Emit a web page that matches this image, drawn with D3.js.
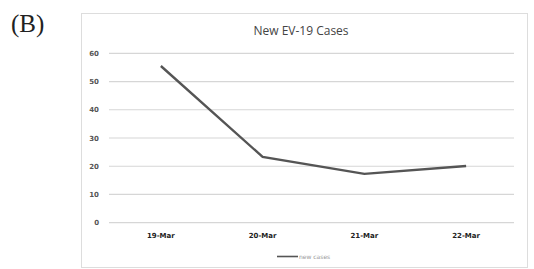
<!DOCTYPE html>
<html>
<head>
<meta charset="utf-8">
<script src="https://cdn.jsdelivr.net/npm/d3@7"></script>
<style>
  body { margin: 0; background: #fff; }
  svg { display: block; }
</style>
</head>
<body>
<svg width="534" height="269"></svg>
<script>
// values
var dates = ["19-Mar", "20-Mar", "21-Mar", "22-Mar"];
var newCases = [55.5, 23.3, 17.3, 20.1];
var yTicks = [0, 10, 20, 30, 40, 50, 60];

var svg = d3.select("svg");

// panel letter
svg.append("text")
    .attr("x", 11).attr("y", 32)
    .attr("font-family", "Liberation Serif, DejaVu Serif, serif")
    .attr("font-size", 25)
    .attr("fill", "#222")
    .text("(B)");

// chart frame
svg.append("rect")
    .attr("x", 81.5).attr("y", 13.5)
    .attr("width", 446).attr("height", 254)
    .attr("fill", "#fff")
    .attr("stroke", "#ddd");

svg.append("text")
    .attr("x", 301).attr("y", 35)
    .attr("text-anchor", "middle")
    .attr("font-family", "Open Sans, DejaVu Sans, sans-serif")
    .attr("font-size", 12)
    .attr("fill", "#444")
    .text("New EV-19 Cases");

var x = d3.scaleBand().domain(dates).range([110, 517]);
var y = d3.scaleLinear().domain([0, 60]).range([222.7, 53.3]);

// gridlines
svg.append("g")
    .selectAll("line")
    .data(yTicks)
    .enter().append("line")
    .attr("x1", 109).attr("x2", 514)
    .attr("y1", function (d) { return y(d); })
    .attr("y2", function (d) { return y(d); })
    .attr("stroke", "#d6d6d6")
    .attr("stroke-width", 1.2);

// y labels
svg.append("g")
    .selectAll("text")
    .data(yTicks)
    .enter().append("text")
    .attr("x", 99)
    .attr("y", function (d) { return y(d) + 2.5; })
    .attr("text-anchor", "end")
    .attr("font-family", "DejaVu Sans, sans-serif")
    .attr("font-size", 7)
    .attr("font-weight", "bold")
    .attr("fill", "#555")
    .text(function (d) { return d; });

// x labels
svg.append("g")
    .selectAll("text")
    .data(dates)
    .enter().append("text")
    .attr("x", function (d) { return x(d) + x.bandwidth() / 2; })
    .attr("y", 238)
    .attr("text-anchor", "middle")
    .attr("font-family", "DejaVu Sans, sans-serif")
    .attr("font-size", 7)
    .attr("font-weight", "bold")
    .attr("fill", "#222")
    .text(function (d) { return d; });

var line = d3.line()
    .x(function (d, i) { return x(dates[i]) + x.bandwidth() / 2; })
    .y(function (d) { return y(d); });

svg.append("path")
    .datum(newCases)
    .attr("d", line)
    .attr("fill", "none")
    .attr("stroke", "#555")
    .attr("stroke-width", 2.4);

// legend
svg.append("line")
    .attr("x1", 277).attr("x2", 298)
    .attr("y1", 256.5).attr("y2", 256.5)
    .attr("stroke", "#555")
    .attr("stroke-width", 1.6);

svg.append("text")
    .attr("x", 299).attr("y", 259)
    .attr("font-family", "DejaVu Sans, sans-serif")
    .attr("font-size", 6)
    .attr("fill", "#999")
    .text("new cases");
</script>
</body>
</html>
